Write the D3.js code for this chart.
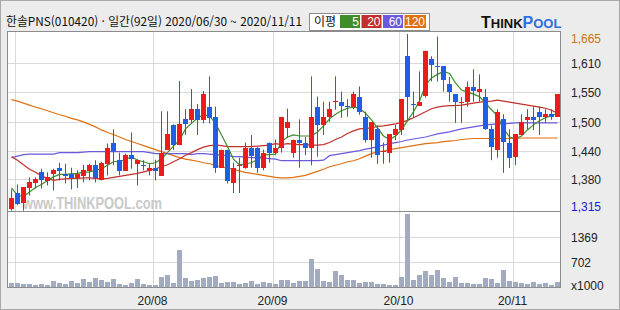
<!DOCTYPE html>
<html lang="ko">
<head>
<meta charset="UTF-8">
<title>한솔PNS 일간</title>
<script src="https://cdn.jsdelivr.net/npm/d3@7"></script>
<style>
  body { margin: 0; background: #fff; }
  svg { display: block; font-family: "Noto Sans CJK KR", "Liberation Sans", sans-serif; }
</style>
</head>
<body>
<div id="chart"></div>
<script>
// daily candles, 2020/06/30 ~ 2020/11/11 (92 trading days)
const opens  = [1319,1351,1330,1359,1369,1391,1374,1389,1400,1388,1387,1380,1385,1395,1406,1377,1408,1450,1416,1395,
                1426,1408,1406,1395,1400,1385,1435,1485,1445,1497,1495,1516,1495,1521,1501,1400,1436,1370,1405,1400,
                1440,1440,1400,1450,1430,1440,1479,1430,1456,1450,1440,1521,1485,1501,1530,1531,1522,1521,1541,1501,
                1455,1476,1432,1428,1465,1475,1621,1526,1524,1541,1615,1601,1601,1566,1546,1529,1531,1561,1551,1541,
                1476,1435,1496,1450,1420,1465,1495,1501,1511,1501,1506,1501];
const highs  = [1357,1367,1361,1381,1381,1398,1391,1398,1410,1408,1400,1395,1406,1408,1415,1412,1448,1476,1430,1428,
                1470,1417,1415,1408,1416,1512,1512,1486,1572,1516,1556,1526,1552,1581,1521,1436,1436,1410,1420,1450,
                1465,1441,1436,1450,1456,1501,1517,1456,1496,1461,1581,1541,1531,1531,1581,1551,1536,1551,1561,1511,
                1490,1484,1450,1467,1485,1536,1665,1551,1591,1632,1621,1660,1601,1580,1546,1540,1571,1595,1585,1556,
                1484,1516,1506,1476,1466,1506,1516,1521,1521,1516,1516,1546];
const lows   = [1315,1326,1315,1345,1359,1359,1365,1355,1375,1369,1357,1360,1371,1375,1371,1375,1385,1405,1385,1394,
                1398,1365,1395,1385,1375,1385,1435,1435,1445,1465,1488,1465,1488,1488,1390,1400,1369,1350,1350,1398,
                1400,1390,1395,1410,1425,1430,1459,1420,1400,1425,1405,1422,1465,1491,1515,1499,1501,1516,1505,1450,
                1420,1408,1408,1410,1455,1465,1495,1499,1524,1539,1571,1571,1551,1531,1489,1489,1521,1531,1531,1475,
                1415,1420,1390,1400,1405,1465,1476,1475,1465,1489,1495,1501];
const closes = [1341,1329,1361,1371,1377,1375,1381,1396,1395,1385,1380,1387,1396,1406,1380,1410,1440,1434,1395,1426,
                1418,1416,1404,1400,1395,1430,1466,1445,1486,1488,1516,1495,1546,1500,1400,1436,1375,1400,1406,1440,
                1425,1400,1430,1430,1440,1501,1490,1456,1450,1440,1501,1485,1501,1516,1532,1524,1520,1546,1511,1455,
                1490,1425,1434,1466,1476,1536,1540,1524,1531,1631,1604,1599,1574,1551,1531,1531,1561,1554,1556,1478,
                1440,1511,1450,1420,1466,1490,1501,1495,1501,1506,1501,1546];
// volume, x1000 shares
const volumes = [149,149,123,123,105,123,105,211,149,123,211,149,263,175,281,237,175,263,123,88,
                 149,263,123,88,88,316,369,149,1027,281,211,237,281,316,342,149,175,175,123,149,
                 211,123,175,149,123,219,219,149,211,211,781,527,211,175,465,360,228,228,149,175,
                 175,132,123,96,96,307,1966,228,351,474,360,491,281,175,307,149,149,123,123,281,
                 254,149,491,202,175,149,123,175,123,149,96,175];
// moving averages (이평) 5 / 20 / 60 / 120
const ma5   = [1360,1345,1343,1352,1361,1367,1375,1382,1387,1387,1388,1389,1391,1392,1395,1398,1405,1412,1413,1416,
               1422,1415,1412,1408,1410,1418,1430,1443,1455,1477,1488,1499,1505,1503,1488,1465,1442,1417,1406,1408,
               1410,1417,1425,1426,1427,1452,1461,1465,1463,1463,1463,1471,1483,1497,1506,1513,1518,1520,1518,1508,
               1495,1479,1463,1456,1463,1475,1493,1511,1532,1564,1578,1585,1591,1587,1568,1554,1550,1546,1541,1528,
               1515,1503,1478,1461,1458,1463,1475,1485,1493,1499,1503,1508];
const ma20  = [1422,1415,1406,1397,1391,1384,1379,1375,1377,1378,1379,1379,1380,1380,1379,1378,1379,1381,1383,1385,
               1387,1389,1392,1395,1398,1402,1406,1412,1418,1425,1430,1436,1441,1444,1445,1444,1442,1442,1442,1442,
               1442,1443,1444,1445,1448,1446,1448,1447,1446,1446,1445,1445,1446,1450,1456,1461,1468,1473,1477,1478,
               1479,1482,1483,1485,1487,1490,1494,1499,1505,1511,1517,1520,1522,1523,1523,1524,1526,1528,1530,1531,
               1532,1534,1532,1530,1528,1526,1524,1522,1520,1518,1514,1508];
const ma60  = [1420,1423,1426,1427,1427,1427,1427,1427,1430,1430,1430,1430,1431,1432,1432,1432,1432,1432,1432,1432,
               1432,1432,1432,1430,1428,1428,1428,1428,1428,1428,1426,1428,1428,1427,1426,1425,1424,1422,1422,1421,
               1420,1420,1419,1418,1417,1414,1414,1414,1414,1414,1414,1414,1415,1424,1426,1428,1430,1432,1434,1437,
               1439,1442,1445,1448,1450,1452,1455,1457,1459,1461,1464,1467,1469,1471,1474,1477,1479,1481,1483,1485,
               1486,1487,1487,1488,1489,1489,1489,1489,1489,1489,1489,1489];
const ma120 = [1535,1532,1528,1524,1520,1517,1513,1509,1505,1502,1498,1495,1491,1486,1481,1475,1470,1466,1461,1456,
               1452,1448,1444,1440,1436,1432,1428,1424,1420,1417,1415,1413,1410,1408,1405,1402,1400,1397,1394,1391,
               1389,1387,1385,1383,1381,1380,1380,1381,1383,1385,1389,1393,1397,1402,1405,1408,1412,1414,1418,1423,
               1428,1432,1433,1436,1438,1440,1442,1444,1446,1448,1449,1450,1452,1453,1454,1456,1457,1458,1458,1458,
               1458,1458,1458,1458,1458,1459,1459,1459,1459,1459,1459,1459];

// axes
const priceGrid   = [1607.6, 1550.1, 1491.6, 1434.2, 1376.8];
const priceLabels = ["1,610", "1,550", "1,500", "1,440", "1,380"];
const priceMax = 1665, priceMin = 1315;
const volGrid   = [1369, 702];
const monthIdx    = [1, 24, 44, 65, 84];
const monthLabels = ["", "20/08", "20/09", "20/10", "20/11"];
const maPeriods = ["5", "20", "60", "120"];
const maColors  = ["#3f8c2a", "#c2302c", "#6a5ae0", "#e07010"];

const W = 620, H = 310;
const svg = d3.select("#chart").append("svg").attr("width", W).attr("height", H);

svg.append("rect").attr("x", 0).attr("y", 0).attr("width", W).attr("height", H).attr("fill", "#ececec");
svg.append("rect").attr("x", 0.5).attr("y", 0.5).attr("width", W - 1).attr("height", H - 1)
  .attr("fill", "none").attr("stroke", "#a9a9a9");

const plotL = 7.5, plotR = 560.5, plotT = 31.5, plotSplit = 211.5, plotB = 287.5;

const x = d3.scaleBand().domain(d3.range(closes.length)).range([8.5, 560.5]);
const y = d3.scaleLinear().domain([priceMin, priceMax]).range([210.7, 34]);
const yv = d3.scaleLinear().domain([35, 2036]).range([287.3, 211.3]);

svg.append("rect").attr("x", plotL).attr("y", plotT).attr("width", plotR - plotL).attr("height", plotB - plotT)
  .attr("fill", "#fff");

// grid
const grid = svg.append("g").attr("stroke", "#d9d9d9").attr("stroke-width", 1);
grid.selectAll(".hp").data(priceGrid).enter().append("line")
  .attr("x1", plotL).attr("x2", plotR)
  .attr("y1", d => Math.round(y(d)) + 0.5).attr("y2", d => Math.round(y(d)) + 0.5);
grid.selectAll(".hv").data(volGrid).enter().append("line")
  .attr("x1", plotL).attr("x2", plotR)
  .attr("y1", d => Math.round(yv(d)) + 0.5).attr("y2", d => Math.round(yv(d)) + 0.5);
grid.selectAll(".vm").data(monthIdx).enter().append("line")
  .attr("x1", d => Math.round(x(d)) + 0.5).attr("x2", d => Math.round(x(d)) + 0.5)
  .attr("y1", plotT).attr("y2", plotB);

// watermark
svg.append("text").attr("x", 23).attr("y", 209).attr("fill", "#c9c9c9")
  .attr("font-family", "Liberation Sans, Arial, sans-serif").attr("font-weight", "bold")
  .attr("font-size", 16).attr("textLength", 139).attr("lengthAdjust", "spacingAndGlyphs")
  .text("www.THINKPOOL.com");

// moving averages
const line = arr => d3.line()
  .x((d, i) => x(i) + x.bandwidth() / 2)
  .y(d => y(d))(arr);
[ma120, ma60, ma20, ma5].forEach((arr, k) => {
  svg.append("path").attr("d", line(arr)).attr("fill", "none")
    .attr("stroke", maColors[3 - k]).attr("stroke-width", 1.2);
});

// candles
const up = "#ee1b1b", down = "#1f5fe4";
const candles = svg.append("g").selectAll("g").data(closes).enter().append("g");
candles.append("line")
  .attr("x1", (d, i) => x(i) + 3).attr("x2", (d, i) => x(i) + 3)
  .attr("y1", (d, i) => y(highs[i])).attr("y2", (d, i) => y(lows[i]))
  .attr("stroke", (d, i) => d >= opens[i] ? up : down);
candles.append("rect")
  .attr("x", (d, i) => Math.round(x(i) + 0.5))
  .attr("width", 5)
  .attr("y", (d, i) => Math.round(y(Math.max(d, opens[i]))))
  .attr("height", (d, i) => Math.max(1, Math.round(y(Math.min(d, opens[i])) - y(Math.max(d, opens[i])))))
  .attr("fill", (d, i) => d >= opens[i] ? up : down);

// volume
svg.append("g").selectAll("rect").data(volumes).enter().append("rect")
  .attr("x", (d, i) => Math.round(x(i) + 0.5))
  .attr("width", 5)
  .attr("y", d => Math.round(yv(d)))
  .attr("height", d => 287 - Math.round(yv(d)))
  .attr("fill", "#a3abc0");

// frame
svg.append("rect").attr("x", plotL).attr("y", plotT).attr("width", plotR - plotL).attr("height", plotB - plotT)
  .attr("fill", "none").attr("stroke", "#8c8c8c");
svg.append("line").attr("x1", plotL).attr("x2", plotR).attr("y1", plotSplit).attr("y2", plotSplit)
  .attr("stroke", "#8c8c8c");

// right axis
const ax = svg.append("g").attr("font-size", 12).attr("font-family", "Liberation Sans, Arial, sans-serif");
ax.append("text").attr("x", 571).attr("y", 43).attr("fill", "#d2700f").text(d3.format(",")(priceMax));
ax.selectAll(".pl").data(priceGrid).enter().append("text")
  .attr("x", 571).attr("y", d => y(d) + 5).attr("fill", "#222")
  .text((d, i) => priceLabels[i]);
ax.append("text").attr("x", 571).attr("y", 211).attr("fill", "#1a1ad8").text(d3.format(",")(priceMin));
ax.selectAll(".vl").data(volGrid).enter().append("text")
  .attr("x", 571).attr("y", d => yv(d) + 5).attr("fill", "#222").text(d => d);
ax.append("text").attr("x", 571).attr("y", 290).attr("fill", "#222").text("x1000");

// month labels
ax.selectAll(".ml").data(monthIdx).enter().append("text")
  .attr("x", d => x(d)).attr("y", 305).attr("text-anchor", "middle").attr("fill", "#222")
  .text((d, i) => monthLabels[i]);

// title
svg.append("text").attr("x", 6).attr("y", 26).attr("font-size", 12).attr("fill", "#111")
  .attr("textLength", 296).attr("lengthAdjust", "spacingAndGlyphs")
  .text("한솔PNS(010420) · 일간(92일) 2020/06/30 ~ 2020/11/11");

// legend
const lg = svg.append("g");
lg.append("rect").attr("x", 309.5).attr("y", 13.5).attr("width", 120).attr("height", 17)
  .attr("fill", "#fff").attr("stroke", "#8c8c8c");
lg.append("text").attr("x", 314).attr("y", 26).attr("font-size", 12).attr("fill", "#111").text("이평");
const boxW = [20, 20, 20, 21.5];
let bx = 340;
maPeriods.forEach((p, k) => {
  lg.append("rect").attr("x", bx).attr("y", 15).attr("width", boxW[k]).attr("height", 13).attr("fill", maColors[k]);
  lg.append("text").attr("x", bx + boxW[k] - 1).attr("y", 26).attr("text-anchor", "end")
    .attr("font-size", 12).attr("font-family", "Liberation Sans, Arial, sans-serif")
    .attr("fill", "#fff").text(p);
  bx += boxW[k] + 1.5;
});

// logo
const logo = svg.append("text").attr("x", 481).attr("y", 28).attr("font-family", "Liberation Sans, Arial, sans-serif")
  .attr("font-weight", "bold");
logo.append("tspan").attr("font-size", 16).attr("fill", "#111").text("T");
logo.append("tspan").attr("font-size", 13).attr("fill", "#111").text("HINK");
logo.append("tspan").attr("font-size", 16).attr("fill", "#2d6fe0").text("P");
logo.append("tspan").attr("font-size", 13).attr("fill", "#2d6fe0").text("OOL");
</script>
</body>
</html>
